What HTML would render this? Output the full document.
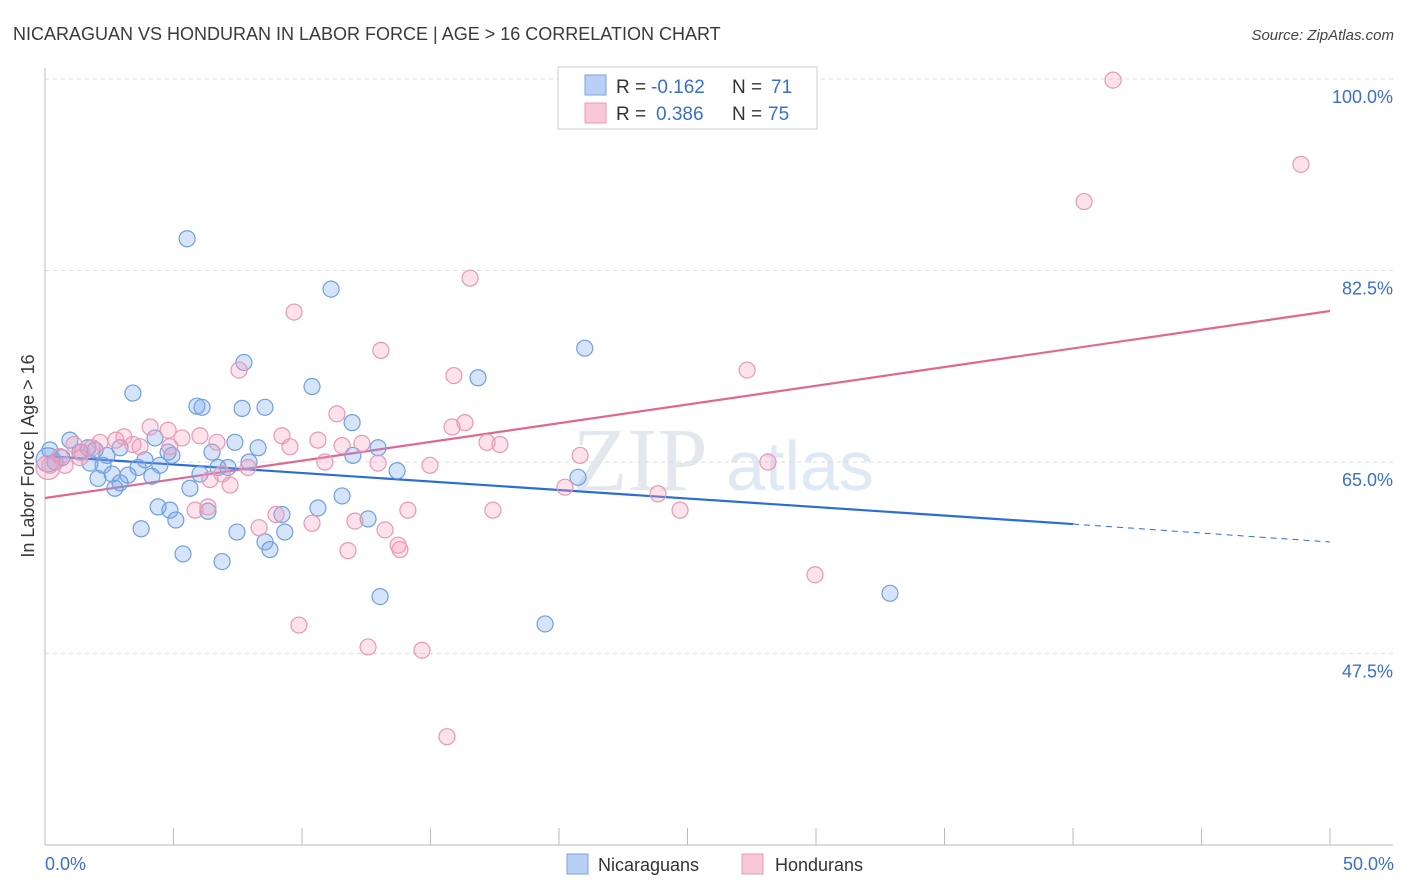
<!DOCTYPE html>
<html><head><meta charset="utf-8"><style>
body{margin:0;background:#fff;font-family:"Liberation Sans",sans-serif;}
svg{display:block}
</style></head><body>
<svg id="c" width="1406" height="892">
<text x="13" y="40" font-size="18" fill="#3a3a3a">NICARAGUAN VS HONDURAN IN LABOR FORCE | AGE &gt; 16 CORRELATION CHART</text>
<text x="1394" y="40" font-size="15" fill="#444" text-anchor="end" font-style="italic">Source: ZipAtlas.com</text>
<text x="640" y="490" font-size="90" fill="#e4e8ee" font-family="Liberation Serif,serif" text-anchor="middle">ZIP</text>
<text x="800" y="490" font-size="70" fill="#dfe8f5" text-anchor="middle">atlas</text>
<g id="grid"></g><g id="axes"></g><g id="trend"></g><g id="pts"></g>
<text transform="translate(34,456) rotate(-90)" font-size="18" fill="#3a3a3a" text-anchor="middle">In Labor Force | Age &gt; 16</text>
<text x="45" y="870" font-size="18" fill="#3a6fd0">0.0%</text>
<text x="1394" y="870" font-size="18" fill="#3a6fd0" text-anchor="end">50.0%</text>
<g>
<rect x="558" y="67" width="259" height="62" fill="#fff" stroke="#ccc"/>
<rect x="585" y="75" width="21" height="20" fill="#b8d0f5" stroke="#7aa2e0"/>
<rect x="585" y="103" width="21" height="20" fill="#f8c8d8" stroke="#e89ab8"/>
<text x="616" y="93" font-size="19" fill="#333">R =</text>
<text x="651" y="93" font-size="19" fill="#3a6fd0">-0.162</text>
<text x="732" y="93" font-size="19" fill="#333">N =</text>
<text x="771" y="93" font-size="19" fill="#3a6fd0">71</text>
<text x="616" y="120" font-size="19" fill="#333">R =</text>
<text x="656" y="120" font-size="19" fill="#3a6fd0">0.386</text>
<text x="732" y="120" font-size="19" fill="#333">N =</text>
<text x="768" y="120" font-size="19" fill="#3a6fd0">75</text>
</g>
<g>
<rect x="567" y="854" width="21" height="20" fill="#b8d0f5" stroke="#7aa2e0"/>
<text x="598" y="871" font-size="18" fill="#333">Nicaraguans</text>
<rect x="742" y="854" width="21" height="20" fill="#f8c8d8" stroke="#e89ab8"/>
<text x="775" y="871" font-size="18" fill="#333">Hondurans</text>
</g>
</svg>
<script>
const yTicks=[100,82.5,65,47.5];
const yTickLabels=["100.0%","82.5%","65.0%","47.5%"];
const xTicks=[0,5,10,15,20,25,30,35,40,45,50];
const blueX=[5.53,11.13,21.0,7.74,10.39,16.85,3.42,5.91,6.11,7.67,8.56,11.95,4.28,7.39,8.29,6.50,0.97,0.19,0.39,0.66,1.36,1.67,1.95,2.41,2.92,3.89,4.79,4.94,2.26,1.75,3.62,4.47,6.73,7.12,7.94,11.98,12.96,13.70,2.61,2.06,3.23,4.16,2.92,2.72,6.03,5.64,20.74,11.56,4.40,4.86,6.34,10.62,9.22,12.57,5.09,3.74,7.47,9.33,8.56,8.75,5.37,6.89,13.04,32.88,19.46,0.12];
const blueY=[85.4,80.8,75.4,74.1,71.9,72.7,71.3,70.1,70.0,69.9,70.0,68.6,67.2,66.8,66.3,65.9,67.0,66.1,65.0,65.4,65.9,66.3,66.1,65.6,66.3,65.2,65.9,65.6,64.7,64.9,64.5,64.7,64.5,64.5,65.0,65.6,66.3,64.2,63.9,63.5,63.8,63.7,63.1,62.6,63.9,62.6,63.6,61.9,60.9,60.6,60.5,60.8,60.2,59.8,59.7,58.9,58.6,58.6,57.7,57.0,56.6,55.9,52.7,53.0,50.2,65.2];
const pinkX=[41.56,48.87,40.43,16.54,9.69,13.07,7.55,15.91,27.32,11.36,16.34,15.84,4.09,4.79,3.07,5.33,6.03,6.69,9.22,10.62,11.56,12.33,9.53,17.20,17.70,2.14,2.76,3.42,3.70,4.86,1.13,1.44,1.83,0.58,0.19,0.78,1.36,20.82,28.13,10.89,12.96,14.98,7.90,6.89,6.42,7.20,20.23,23.85,6.34,5.84,8.99,14.12,17.43,24.71,10.39,12.06,8.33,13.23,13.74,13.81,11.79,29.96,9.88,12.57,14.67,15.64,0.12];
const pinkY=[99.9,92.2,88.8,81.8,78.7,75.2,73.4,72.9,73.4,69.4,68.6,68.2,68.2,67.9,67.3,67.2,67.4,66.8,67.4,67.0,66.5,66.7,66.4,66.8,66.6,66.8,67.0,66.6,66.4,66.4,66.6,65.9,66.3,65.5,64.7,64.7,65.4,65.6,65.0,65.0,64.9,64.7,64.5,63.9,63.4,62.9,62.7,62.1,60.9,60.6,60.2,60.6,60.6,60.6,59.4,59.6,59.0,58.8,57.4,57.0,56.9,54.7,50.1,48.1,47.8,39.9,64.5];
const blueTrend=[[0,65.55],[40,59.33],[50,57.69]];
const pinkTrend=[[0,61.71],[50,78.8]];
const NS="http://www.w3.org/2000/svg";
const sx=v=>45+v*25.7, sy=v=>79+(100-v)*10.943;
function mk(t,a,p){const e=document.createElementNS(NS,t);for(const k in a)e.setAttribute(k,a[k]);document.getElementById(p).appendChild(e);return e;}
yTicks.forEach((t,i)=>{
 const l=mk('line',{x1:45,x2:1393,y1:sy(t),y2:sy(t),stroke:'#ddd','stroke-dasharray':'4,4'},'grid');
 
 
 const tx=mk('text',{x:1393,y:sy(t)+24,'font-size':18,fill:'#3a6fd0','text-anchor':'end'},'grid');
 tx.textContent=yTickLabels[i];
 
 
});
const ax=mk('line',{x1:45,x2:45,y1:68,y2:845,stroke:'#bbb'},'axes');


const bx=mk('line',{x1:45,x2:1393,y1:845,y2:845,stroke:'#bbb'},'axes');


xTicks.forEach(t=>{
 const l=mk('line',{x1:sx(t),x2:sx(t),y1:828,y2:845,stroke:'#bbb'},'axes');
 
 
});
function pts(X,Y,fill,stroke,name){X.forEach((x,i)=>{
 const r=(i===X.length-1)?12:8;
 const c=mk('circle',{cx:sx(x),cy:sy(Y[i]),r:r,fill:fill,stroke:stroke,'stroke-width':1.2},'pts');
 
 
});}
pts(blueX,blueY,'rgba(120,165,235,0.3)','#6f9fe0','nicaraguan-point');
pts(pinkX,pinkY,'rgba(245,160,190,0.3)','#e898b5','honduran-point');
const b1=mk('line',{x1:sx(blueTrend[0][0]),y1:sy(blueTrend[0][1]),x2:sx(blueTrend[1][0]),y2:sy(blueTrend[1][1]),stroke:'#2a6dd6','stroke-width':2.2},'trend');


const b2=mk('line',{x1:sx(blueTrend[1][0]),y1:sy(blueTrend[1][1]),x2:sx(blueTrend[2][0]),y2:sy(blueTrend[2][1]),stroke:'#2a6dd6','stroke-width':1,'stroke-dasharray':'6,5'},'trend');


const p1=mk('line',{x1:sx(pinkTrend[0][0]),y1:sy(pinkTrend[0][1]),x2:sx(pinkTrend[1][0]),y2:sy(pinkTrend[1][1]),stroke:'#e06890','stroke-width':2.2},'trend');


</script>
</body></html>
